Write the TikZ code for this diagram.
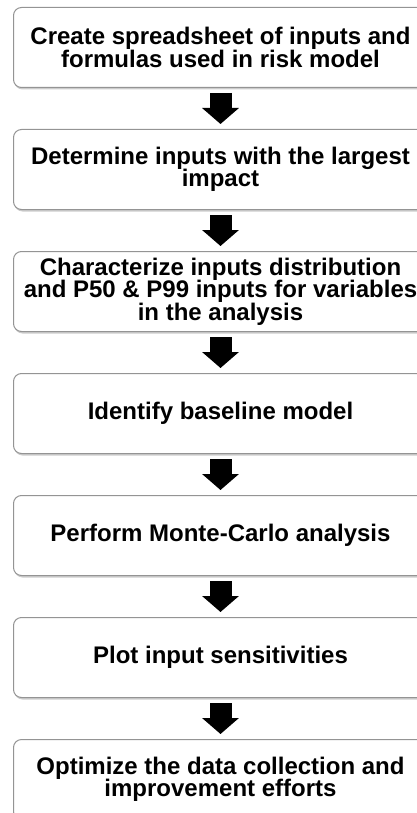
\documentclass[tikz,border=0pt]{standalone}
\usepackage{fontspec}
\setmainfont{Liberation Sans}
\usetikzlibrary{positioning,shadows,arrows.meta}

\begin{document}
\begin{tikzpicture}[x=1pt,y=1pt,
                    box/.style={draw=black!42,line width=1pt,rounded corners=8pt,fill=white,
                        minimum width=414pt,minimum height=80pt,inner sep=2pt,align=center,
                        font=\fontsize{24}{22.5}\selectfont\bfseries,
                        drop shadow={shadow xshift=1pt,shadow yshift=-2pt,opacity=0.4}},
                    bigarrow/.style={line width=22pt,-{Triangle[width=36pt,length=16pt]},
                        shorten <=5pt,shorten >=5pt}]
                    \useasboundingbox (0,0) rectangle (417,-813);
                    \node[box,anchor=north west] (s1) at (13,-7) {Create spreadsheet of inputs and\\formulas used in risk model};
                    \node[box,below=41pt of s1] (s2) {Determine inputs with the largest\\impact};
                    \node[box,below=41pt of s2] (s3) {Characterize inputs distribution\\and P50 \& P99 inputs for variables\\in the analysis};
                    \node[box,below=41pt of s3] (s4) {Identify baseline model};
                    \node[box,below=41pt of s4] (s5) {Perform Monte-Carlo analysis};
                    \node[box,below=41pt of s5] (s6) {Plot input sensitivities};
                    \node[box,below=41pt of s6] (s7) {Optimize the data collection and\\improvement efforts};
                    \draw[bigarrow] (s1) -- (s2);
                    \draw[bigarrow] (s2) -- (s3);
                    \draw[bigarrow] (s3) -- (s4);
                    \draw[bigarrow] (s4) -- (s5);
                    \draw[bigarrow] (s5) -- (s6);
                    \draw[bigarrow] (s6) -- (s7);
                \end{tikzpicture}
\end{document}
